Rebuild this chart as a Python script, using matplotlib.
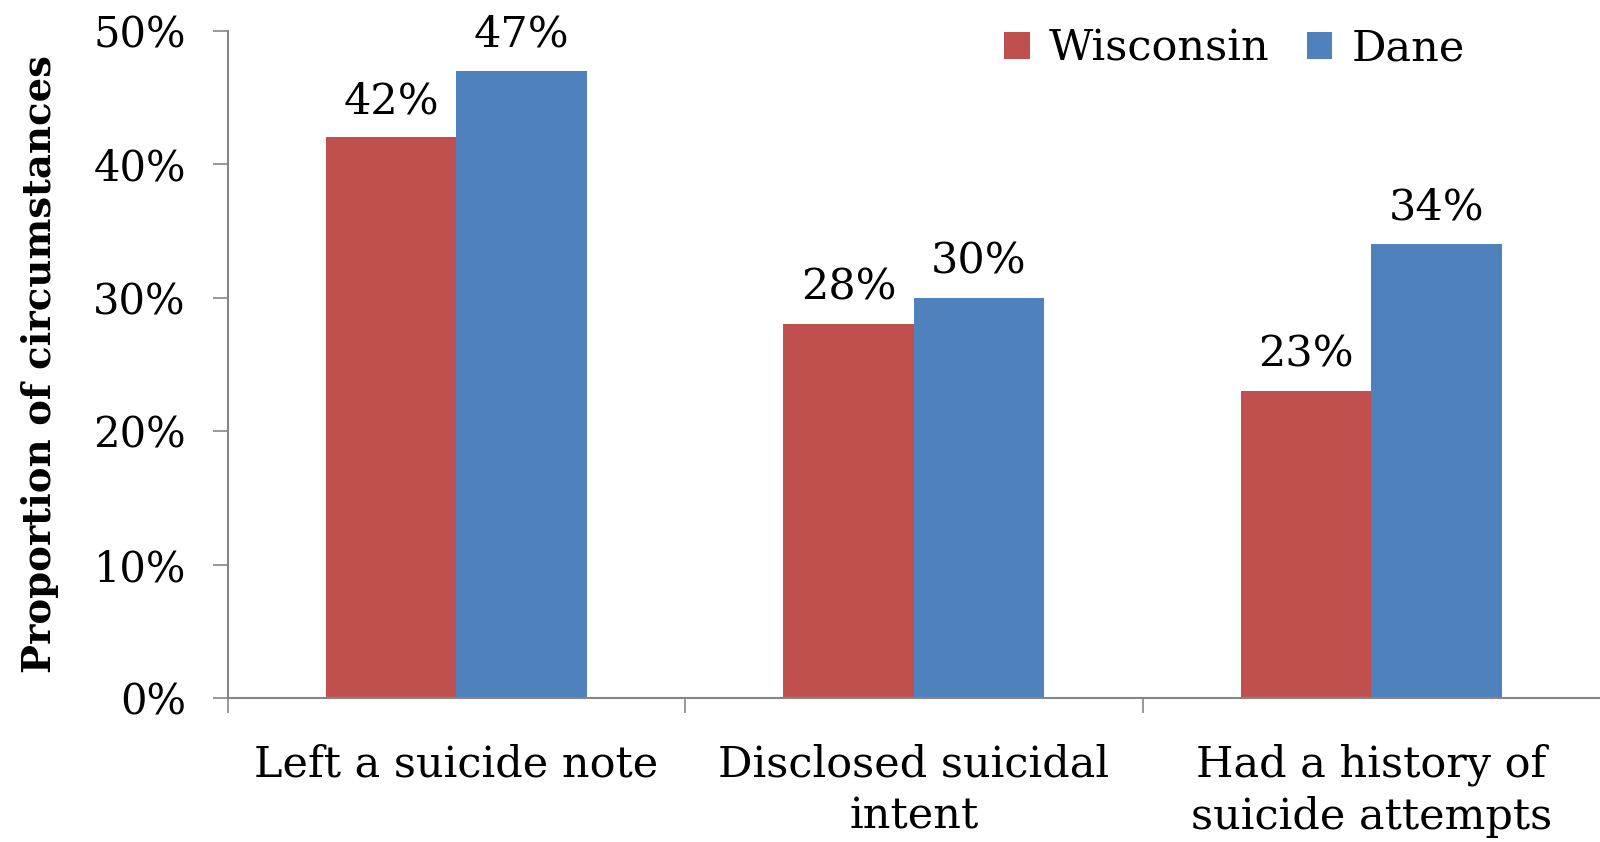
import matplotlib
matplotlib.use("Agg")
import matplotlib.pyplot as plt
import numpy as np

categories = ["Left a suicide note", "Disclosed suicidal\nintent", "Had a history of\nsuicide attempts"]
wisconsin = [42, 28, 23]
dane = [47, 30, 34]
series_names = ["Wisconsin", "Dane"]
y_ticks = [0, 10, 20, 30, 40, 50]

RED = "#C0504D"
BLUE = "#4F81BD"
AXIS = "#868686"
FONT = "DejaVu Serif"
FS = 31

W, H = 1600, 842
fig = plt.figure(figsize=(W / 100, H / 100), dpi=100)
left, right, bottom, top = 227.5, 1600, 698, 30.6
ax = fig.add_axes([left / W, (H - bottom) / H, (right - left) / W, (bottom - top) / H])

x = np.arange(len(categories))
bw = 0.285
b1 = ax.bar(x - bw / 2, wisconsin, bw, color=RED, label=series_names[0], zorder=2)
b2 = ax.bar(x + bw / 2, dane, bw, color=BLUE, label=series_names[1], zorder=2)

for bars, vals in ((b1, wisconsin), (b2, dane)):
    for rect, v in zip(bars, vals):
        ax.annotate(f"{v}%", (rect.get_x() + rect.get_width() / 2, v),
                    xytext=(0, 11), textcoords="offset points",
                    ha="center", va="bottom", fontsize=FS, family=FONT,
                    annotation_clip=False)

ax.set_xlim(-0.5, 2.5)
ax.set_ylim(0, 50)

ax.set_yticks(y_ticks)
ax.set_yticklabels([f"{t}%" for t in y_ticks], fontsize=30, family=FONT)
ax.tick_params(axis="y", direction="out", length=11, width=1.2, color=AXIS, pad=19)

ax.set_xticks(x)
ax.set_xticklabels(categories, fontsize=FS, family=FONT, linespacing=1.3)
ax.tick_params(axis="x", which="major", length=0, pad=33)
ax.set_xticks([-0.5, 0.5, 1.5], minor=True)
ax.tick_params(axis="x", which="minor", direction="out", length=11, width=1.2, color=AXIS)

for s in ("top", "right"):
    ax.spines[s].set_visible(False)
for s in ("left", "bottom"):
    ax.spines[s].set_color(AXIS)
    ax.spines[s].set_linewidth(1.5)

ax.set_ylabel("Proportion of circumstances", fontsize=27.8, family=FONT,
              fontweight="bold")
ax.yaxis.set_label_coords(-0.123, 0.5)

ax.legend(loc="upper right", bbox_to_anchor=(0.93, 1.062), ncol=2, frameon=False,
          prop={"family": FONT, "size": FS}, handlelength=0.6, handleheight=0.6,
          handletextpad=0.45, columnspacing=0.85)

fig.savefig("out.png", dpi=100, facecolor="white")
